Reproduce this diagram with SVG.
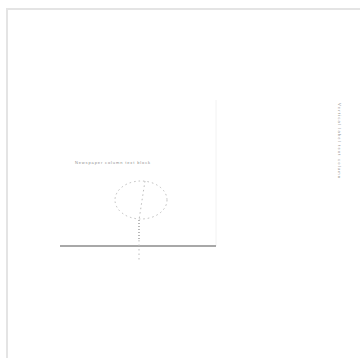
<svg xmlns="http://www.w3.org/2000/svg" width="360" height="358" viewBox="0 0 360 358">
<style>
.frame{fill:none;stroke:#e4e4e4;stroke-width:2}
.faint{fill:none;stroke:#f2f2f2;stroke-width:1}
.ground{stroke:#a8a8a8;stroke-width:2}
.dash{fill:none;stroke:#bdbdbd;stroke-width:1;stroke-dasharray:1.5 3}
.dot{fill:none;stroke:#8a8a8a;stroke-width:1.2;stroke-dasharray:1 2}
.t{font-family:"Liberation Sans",Arial,sans-serif;font-size:4px;fill:#8f8f8f}
</style>
<rect width="360" height="358" fill="#ffffff"/>
<path class="frame" d="M7 358 V9 H360"/>
<path class="faint" d="M216 100 V246"/>
<line class="ground" x1="60" y1="246" x2="216" y2="246"/>
<ellipse class="dash" cx="141" cy="200" rx="26" ry="19"/>
<path class="dash" d="M145 181 L139 220"/>
<path class="dot" d="M139 220 V240"/>
<path class="dash" d="M139 240 V260"/>
<text class="t" x="75" y="164" textLength="75" lengthAdjust="spacing">Newspaper column text block</text>
<text class="t" transform="translate(338,103) rotate(90)" textLength="75" lengthAdjust="spacing">Vertical label text column</text>
</svg>
